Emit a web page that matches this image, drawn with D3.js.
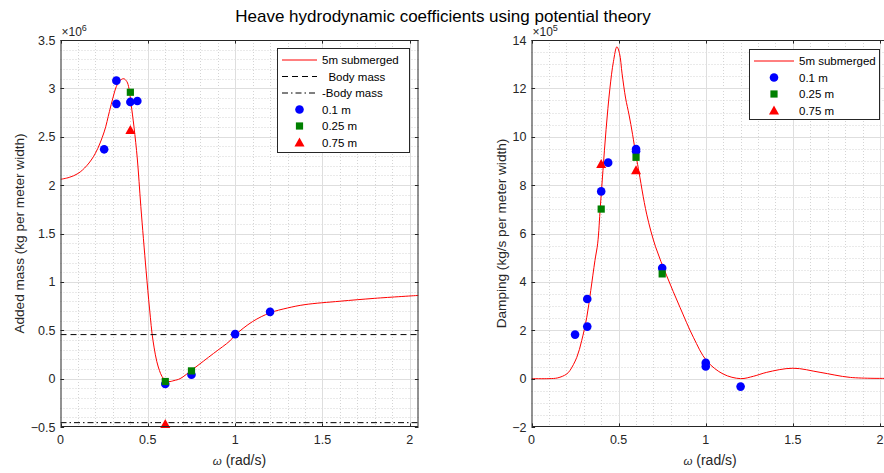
<!DOCTYPE html>
<html>
<head>
<meta charset="utf-8">
<script src="https://cdn.jsdelivr.net/npm/d3@7/dist/d3.min.js"></script>
<style>
  html, body { margin: 0; padding: 0; background: #fff; }
  svg { display: block; font-family: "Liberation Sans", Arial, Helvetica, sans-serif; }
  text { white-space: pre; }
</style>
</head>
<body>
<svg id="fig" width="884" height="473"></svg>
<script>
// ---- Heave added mass (units of 1e6 kg per meter width) ----
const addedMassCurve = [
  [0, 2.06], [0.05, 2.08], [0.1, 2.12], [0.15, 2.2], [0.2, 2.33], [0.25, 2.55],
  [0.28, 2.76], [0.3, 2.9], [0.32, 3.02], [0.34, 3.08], [0.362, 3.10], [0.38, 3.07],
  [0.392, 3.0], [0.404, 2.84], [0.421, 2.60], [0.44, 2.27], [0.46, 1.78],
  [0.49, 1.12], [0.51, 0.72], [0.53, 0.39], [0.56, 0.12], [0.59, 0.0],
  [0.62, -0.03], [0.65, -0.02], [0.685, 0.0], [0.76, 0.10], [0.876, 0.26],
  [0.97, 0.39], [1.0, 0.45], [1.1, 0.59], [1.2, 0.68], [1.3, 0.73],
  [1.4, 0.765], [1.6, 0.80], [1.8, 0.83], [2.05, 0.86]
];
const bodyMass = 0.455;
const addedMass01 = [[0.25, 2.37], [0.32, 3.08], [0.32, 2.84], [0.40, 2.86], [0.44, 2.87],
                     [0.60, -0.055], [0.75, 0.04], [1.0, 0.46], [1.2, 0.69]];
const addedMass025 = [[0.40, 2.96], [0.60, -0.03], [0.75, 0.08]];
const addedMass075 = [[0.40, 2.57], [0.60, -0.47]];

// ---- Heave radiation damping (units of 1e5 kg/s per meter width) ----
const dampingCurve = [
  [0, 0], [0.1, 0.0], [0.15, 0.03], [0.2, 0.18], [0.22, 0.33], [0.26, 0.88],
  [0.288, 1.57], [0.317, 2.53], [0.34, 3.64], [0.364, 4.88], [0.38, 5.6],
  [0.395, 7.1], [0.41, 8.6], [0.428, 10.3], [0.45, 12.0], [0.47, 13.1],
  [0.49, 13.72], [0.505, 13.45], [0.52, 12.6], [0.54, 11.6], [0.56, 10.9],
  [0.58, 10.1], [0.6, 9.2], [0.613, 8.7], [0.661, 6.8], [0.712, 5.45], [0.776, 4.25],
  [0.852, 2.95], [0.929, 1.71], [1.005, 0.74], [1.1, 0.19], [1.2, 0.0],
  [1.275, 0.1], [1.35, 0.26], [1.5, 0.43], [1.656, 0.26], [1.83, 0.05], [2.05, 0.01]
];
const damping01 = [[0.25, 1.82], [0.32, 3.29], [0.32, 2.15], [0.40, 7.74], [0.44, 8.93],
                   [0.60, 9.49], [0.60, 9.40], [0.75, 4.57], [1.0, 0.65], [1.0, 0.50], [1.2, -0.33]];
const damping025 = [[0.40, 7.01], [0.60, 9.15], [0.75, 4.33]];
const damping075 = [[0.40, 8.87], [0.60, 8.62]];

// ---- Axis ticks and labels ----
const xTicks = [0, 0.5, 1, 1.5, 2];
const addedMassTicks = [-0.5, 0, 0.5, 1, 1.5, 2, 2.5, 3, 3.5];
const dampingTicks = [-2, 0, 2, 4, 6, 8, 10, 12, 14];
const titleText = "Heave hydrodynamic coefficients using potential theory";
const xLabel = "(rad/s)";
const addedMassLabel = "Added mass (kg per meter width)";
const dampingLabel = "Damping (kg/s per meter width)";
const seriesNames = ["5m submerged", "  Body mass", "-Body mass", "0.1 m", "0.25 m", "0.75 m"];

const svg = d3.select("#fig");
const AX = "#262626";
const RED = "#ff0000", BLUE = "#0000ff", GREEN = "#008000";

function panel(opt) {
  const { x, y, id } = opt;
  const g = svg.append("g");
  const [x0, x1] = x.range();
  const [y0, y1] = y.range(); // y0 bottom, y1 top

  g.append("defs").append("clipPath").attr("id", id)
    .append("rect").attr("x", x0).attr("y", y1).attr("width", x1 - x0).attr("height", y0 - y1);

  // minor grid (dotted)
  const xMinor = d3.range(0, 2.05 + 1e-9, 0.1).map(v => +v.toFixed(2)).filter(v => Math.abs(v * 2 - Math.round(v * 2)) > 1e-6);
  const yd = y.domain();
  const yMinor = d3.range(yd[0], yd[1] + 1e-9, opt.yMinorStep).map(v => +v.toFixed(3))
    .filter(v => !opt.yTicks.some(t => Math.abs(t - v) < 1e-6));
  g.selectAll(".xmin").data(xMinor).join("line")
    .attr("x1", d => Math.round(x(d)) + 0.5).attr("x2", d => Math.round(x(d)) + 0.5)
    .attr("y1", y1).attr("y2", y0)
    .attr("stroke", "#d4d4d4").attr("stroke-dasharray", "1,2");
  g.selectAll(".ymin").data(yMinor).join("line")
    .attr("y1", d => Math.round(y(d)) + 0.5).attr("y2", d => Math.round(y(d)) + 0.5)
    .attr("x1", x0).attr("x2", x1)
    .attr("stroke", "#d4d4d4").attr("stroke-dasharray", "1,2");
  // major grid
  g.selectAll(".xmaj").data(xTicks.filter(d => d > 0)).join("line")
    .attr("x1", d => Math.round(x(d)) + 0.5).attr("x2", d => Math.round(x(d)) + 0.5)
    .attr("y1", y1).attr("y2", y0).attr("stroke", "#dedede");
  g.selectAll(".ymaj").data(opt.yTicks.slice(1, -1)).join("line")
    .attr("y1", d => Math.round(y(d)) + 0.5).attr("y2", d => Math.round(y(d)) + 0.5)
    .attr("x1", x0).attr("x2", x1).attr("stroke", "#dedede");

  // plotted content, clipped to the axes box
  const plot = g.append("g").attr("clip-path", `url(#${id})`);
  const line = d3.line().x(d => x(d[0])).y(d => y(d[1])).curve(d3.curveCatmullRom.alpha(0.5));
  plot.append("path").datum(opt.curve).attr("d", line)
    .attr("fill", "none").attr("stroke", RED).attr("stroke-width", 1);
  if (opt.hlines) {
    opt.hlines.forEach(h => {
      plot.append("line")
        .attr("x1", x0).attr("x2", x1)
        .attr("y1", y(h.v)).attr("y2", y(h.v))
        .attr("stroke", "#000").attr("stroke-width", 1)
        .attr("stroke-dasharray", h.dash);
    });
  }

  // markers (not clipped)
  const mk = g.append("g");
  mk.selectAll(".c").data(opt.p01).join("circle")
    .attr("cx", d => x(d[0])).attr("cy", d => y(d[1])).attr("r", 4.3).attr("fill", BLUE);
  mk.selectAll(".s").data(opt.p025).join("rect")
    .attr("x", d => x(d[0]) - 3.6).attr("y", d => y(d[1]) - 3.6)
    .attr("width", 7.2).attr("height", 7.2).attr("fill", GREEN);
  mk.selectAll(".t").data(opt.p075).join("path")
    .attr("d", d => `M${x(d[0])},${y(d[1]) - 5}L${x(d[0]) + 5},${y(d[1]) + 4}L${x(d[0]) - 5},${y(d[1]) + 4}Z`)
    .attr("fill", RED);

  // axes box
  g.append("rect").attr("x", x0 + 0.5).attr("y", y1 + 0.5)
    .attr("width", x1 - x0 - 1).attr("height", y0 - y1 - 1)
    .attr("fill", "none").attr("stroke", AX).attr("stroke-width", 1);

  // inward ticks, all four sides
  const tl = 3.6;
  xTicks.forEach(t => {
    const px = Math.round(x(t)) + 0.5;
    g.append("line").attr("x1", px).attr("x2", px).attr("y1", y0).attr("y2", y0 - tl).attr("stroke", AX);
    g.append("line").attr("x1", px).attr("x2", px).attr("y1", y1).attr("y2", y1 + tl).attr("stroke", AX);
  });
  opt.yTicks.forEach(t => {
    const py = Math.round(y(t)) + 0.5;
    g.append("line").attr("x1", x0).attr("x2", x0 + tl).attr("y1", py).attr("y2", py).attr("stroke", AX);
    g.append("line").attr("x1", x1).attr("x2", x1 - tl).attr("y1", py).attr("y2", py).attr("stroke", AX);
  });

  // tick labels
  g.selectAll(".xl").data(xTicks).join("text")
    .attr("x", d => x(d)).attr("y", y0 + 17)
    .attr("text-anchor", "middle").attr("font-size", 12.5).attr("fill", AX)
    .text(d => d3.format("")(d));
  g.selectAll(".yl").data(opt.yTicks).join("text")
    .attr("x", x0 - 5).attr("y", d => y(d) + 4.5)
    .attr("text-anchor", "end").attr("font-size", 12.5).attr("fill", AX)
    .text(d => d3.format("")(d));

  // exponent
  const ex = g.append("text").attr("x", x0 + 1).attr("y", y1 - 4).attr("font-size", 12).attr("fill", AX);
  ex.append("tspan").text("\u00d710");
  ex.append("tspan").attr("dy", -5).attr("font-size", 9).text(opt.exponent);

  // axis labels
  const xl = g.append("text").attr("x", (x0 + x1) / 2).attr("y", y0 + 38)
    .attr("text-anchor", "middle").attr("font-size", 14).attr("fill", AX);
  xl.append("tspan").attr("font-style", "italic").attr("font-size", 11.5).text("\u03c9");
  xl.append("tspan").text(" " + xLabel);
  g.append("text")
    .attr("transform", `translate(${opt.yLabelX},${(y0 + y1) / 2}) rotate(-90)`)
    .attr("text-anchor", "middle").attr("font-size", 13.6).attr("fill", AX)
    .text(opt.yLabel);

  // legend
  const L = opt.legend;
  const lg = g.append("g");
  lg.append("rect").attr("x", L.x + 0.5).attr("y", L.y + 0.5).attr("width", L.w).attr("height", L.h)
    .attr("fill", "#fff").attr("stroke", AX).attr("stroke-width", 1);
  L.rows.forEach((r, i) => {
    const cy = L.y + 12 + i * 16.5;
    const lx0 = L.x + 5, lx1 = L.x + 5 + L.lineLen, mx = (lx0 + lx1) / 2;
    if (r.kind === "line") {
      lg.append("line").attr("x1", lx0).attr("x2", lx1).attr("y1", cy).attr("y2", cy)
        .attr("stroke", r.color).attr("stroke-width", 1).attr("stroke-dasharray", r.dash || null);
    } else if (r.kind === "circle") {
      lg.append("circle").attr("cx", mx).attr("cy", cy).attr("r", 4.3).attr("fill", BLUE);
    } else if (r.kind === "square") {
      lg.append("rect").attr("x", mx - 3.6).attr("y", cy - 3.6).attr("width", 7.2).attr("height", 7.2).attr("fill", GREEN);
    } else {
      lg.append("path").attr("d", `M${mx},${cy - 5}L${mx + 5},${cy + 4}L${mx - 5},${cy + 4}Z`).attr("fill", RED);
    }
    lg.append("text").attr("x", lx1 + 5).attr("y", cy + 4).attr("font-size", 11.5).attr("fill", "#000").text(r.name);
  });
}

panel({
  id: "clipL",
  x: d3.scaleLinear().domain([0, 2.05]).range([60.5, 418.5]),
  y: d3.scaleLinear().domain([-0.5, 3.5]).range([427, 40]),
  yTicks: addedMassTicks, yMinorStep: 0.1,
  curve: addedMassCurve,
  hlines: [{ v: bodyMass, dash: "6,4" }, { v: -bodyMass, dash: "6,3,1.5,3" }],
  p01: addedMass01, p025: addedMass025, p075: addedMass075,
  exponent: "6", yLabel: addedMassLabel, yLabelX: 24,
  legend: {
    x: 277, y: 48, w: 132, h: 104, lineLen: 35,
    rows: [
      { kind: "line", color: RED, name: seriesNames[0] },
      { kind: "line", color: "#000", dash: "6,4", name: seriesNames[1] },
      { kind: "line", color: "#000", dash: "6,3,1.5,3", name: seriesNames[2] },
      { kind: "circle", name: seriesNames[3] },
      { kind: "square", name: seriesNames[4] },
      { kind: "tri", name: seriesNames[5] }
    ]
  }
});

panel({
  id: "clipR",
  x: d3.scaleLinear().domain([0, 2.05]).range([531.5, 888.7]),
  y: d3.scaleLinear().domain([-2, 14]).range([427, 40]),
  yTicks: dampingTicks, yMinorStep: 0.5,
  curve: dampingCurve,
  p01: damping01, p025: damping025, p075: damping075,
  exponent: "5", yLabel: dampingLabel, yLabelX: 506,
  legend: {
    x: 749, y: 49, w: 130, h: 70, lineLen: 40,
    rows: [
      { kind: "line", color: RED, name: seriesNames[0] },
      { kind: "circle", name: seriesNames[3] },
      { kind: "square", name: seriesNames[4] },
      { kind: "tri", name: seriesNames[5] }
    ]
  }
});

// figure title, drawn last so it sits above the exponent label
svg.append("text")
  .attr("x", 443).attr("y", 22)
  .attr("text-anchor", "middle")
  .attr("font-size", 17).attr("fill", "#000")
  .text(titleText);
</script>
</body>
</html>
